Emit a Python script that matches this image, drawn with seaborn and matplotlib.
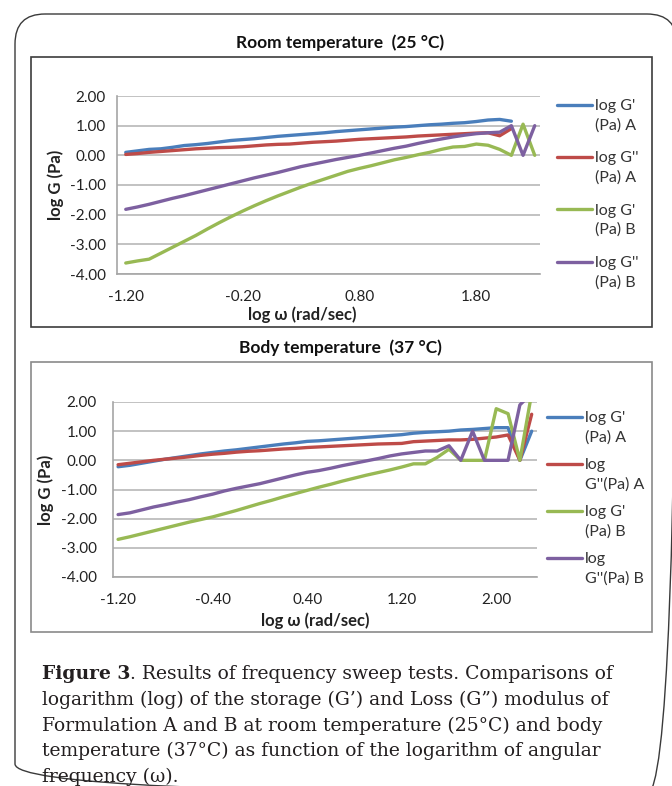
import numpy as np
import pandas as pd
import matplotlib
matplotlib.use("Agg")
import matplotlib.pyplot as plt
import matplotlib.transforms as mtransforms
from matplotlib.patches import Rectangle, FancyBboxPatch
from matplotlib.legend_handler import HandlerLine2D
from matplotlib.text import Annotation
import seaborn as sns

# log w (rad/sec)
log_w = [-1.2, -1.1, -1.0, -0.9, -0.8, -0.7, -0.6, -0.5, -0.4, -0.3, -0.2, -0.1,
         0.0, 0.1, 0.2, 0.3, 0.4, 0.5, 0.6, 0.7, 0.8, 0.9, 1.0, 1.1,
         1.2, 1.3, 1.4, 1.5, 1.6, 1.7, 1.8, 1.9, 2.0, 2.1, 2.2, 2.3]

# Room temperature (25 C)
room_gp_a = [0.10, 0.15, 0.20, 0.22, 0.27, 0.33, 0.36, 0.40, 0.45, 0.50, 0.53, 0.56,
             0.60, 0.64, 0.67, 0.70, 0.73, 0.76, 0.80, 0.83, 0.86, 0.89, 0.92, 0.95,
             0.97, 1.00, 1.03, 1.05, 1.08, 1.10, 1.14, 1.19, 1.21, 1.15]
room_gpp_a = [0.03, 0.06, 0.10, 0.13, 0.16, 0.19, 0.22, 0.24, 0.26, 0.27, 0.29, 0.32,
              0.35, 0.37, 0.38, 0.41, 0.44, 0.46, 0.48, 0.51, 0.54, 0.56, 0.58, 0.60,
              0.62, 0.65, 0.67, 0.69, 0.71, 0.73, 0.75, 0.76, 0.66, 0.90]
room_gp_b = [-3.63, -3.56, -3.50, -3.30, -3.10, -2.90, -2.70, -2.48, -2.27, -2.07, -1.88, -1.70,
             -1.53, -1.37, -1.22, -1.07, -0.93, -0.80, -0.67, -0.54, -0.44, -0.35, -0.25, -0.15,
             -0.07, 0.02, 0.10, 0.20, 0.28, 0.30, 0.38, 0.34, 0.20, 0.00, 1.05, 0.00]
room_gpp_b = [-1.82, -1.74, -1.65, -1.55, -1.45, -1.36, -1.26, -1.16, -1.06, -0.96, -0.86, -0.76,
              -0.67, -0.58, -0.48, -0.38, -0.30, -0.22, -0.14, -0.07, 0.00, 0.08, 0.16, 0.24,
              0.31, 0.40, 0.48, 0.55, 0.62, 0.68, 0.73, 0.76, 0.78, 1.00, 0.00, 1.00]

# Body temperature (37 C)
body_gp_a = [-0.22, -0.17, -0.10, -0.03, 0.04, 0.10, 0.16, 0.22, 0.27, 0.32, 0.36, 0.41,
             0.46, 0.51, 0.56, 0.60, 0.65, 0.67, 0.70, 0.73, 0.76, 0.79, 0.82, 0.85,
             0.88, 0.93, 0.96, 0.98, 1.00, 1.04, 1.06, 1.09, 1.12, 1.12, 0.00, 1.00]
body_gpp_a = [-0.15, -0.10, -0.05, 0.00, 0.04, 0.08, 0.12, 0.17, 0.21, 0.24, 0.28, 0.31,
              0.33, 0.36, 0.39, 0.41, 0.44, 0.46, 0.48, 0.50, 0.52, 0.54, 0.56, 0.57,
              0.58, 0.64, 0.66, 0.68, 0.70, 0.70, 0.72, 0.76, 0.80, 0.87, 0.00, 1.58]
body_gp_b = [-2.71, -2.62, -2.52, -2.42, -2.32, -2.22, -2.12, -2.03, -1.94, -1.83, -1.72, -1.60,
             -1.48, -1.37, -1.25, -1.14, -1.03, -0.92, -0.82, -0.71, -0.61, -0.51, -0.42, -0.33,
             -0.23, -0.12, -0.12, 0.10, 0.38, 0.00, 0.00, 0.00, 1.77, 1.60, 0.00, 2.30]
body_gpp_b = [-1.86, -1.80, -1.70, -1.60, -1.52, -1.43, -1.35, -1.25, -1.16, -1.05, -0.96, -0.88,
              -0.80, -0.70, -0.60, -0.50, -0.41, -0.35, -0.27, -0.18, -0.10, -0.02, 0.06, 0.15,
              0.22, 0.27, 0.32, 0.32, 0.50, 0.00, 1.00, 0.00, 0.00, 0.00, 1.90, 2.30]

room_labels = ["log G'\n(Pa) A", "log G''\n(Pa) A", "log G'\n(Pa) B", "log G''\n(Pa) B"]
body_labels = ["log G'\n(Pa) A", "log\nG''(Pa) A", "log G'\n(Pa) B", "log\nG''(Pa) B"]
colors = ["#4a7ebb", "#be4b48", "#98b954", "#7d60a0"]

room_ticks = [-1.2, -0.2, 0.8, 1.8]
body_ticks = [-1.2, -0.4, 0.4, 1.2, 2.0]
y_ticks = [-4, -3, -2, -1, 0, 1, 2]

caption_head = "Figure 3"
caption_first = ". Results of frequency sweep tests. Comparisons of"
caption_lines = [
    "logarithm (log) of the storage (G\u2019) and Loss (G\u201d) modulus of",
    "Formulation A and B at room temperature (25\u00b0C) and body",
    "temperature (37\u00b0C) as function of the logarithm of angular",
    "frequency (\u03c9).",
]


def long_frame(series, labels):
    rows = []
    for vals, lab in zip(series, labels):
        for x, v in zip(log_w, vals):
            rows.append({"log_w": x, "logG": v, "serie": lab})
    return pd.DataFrame(rows)


class FirstLineHandler(HandlerLine2D):
    # Excel puts the legend line beside the first text line
    def create_artists(self, legend, orig_handle, xdescent, ydescent,
                       width, height, fontsize, trans):
        arts = super().create_artists(legend, orig_handle, xdescent, ydescent,
                                      width, height, fontsize, trans)
        for a in arts:
            a.set_ydata(np.asarray(a.get_ydata()) + 0.68 * fontsize)
        return arts


sns.set_theme(style="white")
plt.rcParams["font.family"] = ["Lato", "DejaVu Sans"]

W, H = 672, 786
fig = plt.figure(figsize=(W / 100, H / 100), dpi=100)
px = mtransforms.Affine2D().scale(1 / W, -1 / H).translate(0, 1) + fig.transFigure

# outer rounded frame and the two chart boxes
fig.add_artist(FancyBboxPatch((15, 14), 662, 780, boxstyle="round,pad=0,rounding_size=30",
                              transform=px, fill=False, ec="#3a3a3a", lw=1.0))
fig.add_artist(Rectangle((31, 57), 621, 270, transform=px, fill=False, ec="#3c3c3c", lw=1.2))
fig.add_artist(Rectangle((31, 362), 621, 270, transform=px, fill=False, ec="#8a8a8a", lw=1.2))


def draw_panel(rect, series, labels, xticks, xlim, title, title_y, leg_xy, leg_spacing,
               ylab_x, xlab_xy, ypad, xpad):
    ax = fig.add_axes(rect)
    df = long_frame(series, labels)
    sns.lineplot(data=df, x="log_w", y="logG", hue="serie", hue_order=labels,
                 palette=colors, lw=2.4, ax=ax, sort=False)
    ax.set_xlim(*xlim)
    ax.set_ylim(-4, 2)
    ax.set_xticks(xticks)
    ax.set_xticklabels([f"{t:.2f}" for t in xticks])
    ax.set_yticks(y_ticks)
    ax.set_yticklabels([f"{t:.2f}" for t in y_ticks])
    ax.tick_params(axis="y", length=0, pad=ypad, labelsize=11, labelcolor="#222222")
    ax.tick_params(axis="x", length=0, pad=xpad, labelsize=11, labelcolor="#222222")
    ax.grid(axis="y", color="#bdbdbd", lw=1.3)
    ax.set_axisbelow(True)
    for s in ["top", "right"]:
        ax.spines[s].set_visible(False)
    for s in ["left", "bottom"]:
        ax.spines[s].set_color("#a6a6a6")
        ax.spines[s].set_linewidth(1.2)
    ax.set_xlabel("log \u03c9 (rad/sec)", fontsize=12, fontweight="bold", color="#222222")
    ax.set_ylabel("log G (Pa)", fontsize=12, fontweight="bold", color="#222222")
    ax.yaxis.set_label_coords(ylab_x, 0.5)
    ax.xaxis.set_label_coords(*xlab_xy)
    fig.text(340 / W, 1 - title_y / H, title, ha="center", va="center",
             fontsize=12.5, fontweight="bold", color="#111111")
    leg = ax.legend(loc="upper left", bbox_to_anchor=(leg_xy[0] / W, 1 - leg_xy[1] / H),
                    bbox_transform=fig.transFigure, frameon=False, borderpad=0,
                    borderaxespad=0, handlelength=2.2, handletextpad=0.2,
                    labelspacing=leg_spacing, prop={"size": 11.5}, labelcolor="#333333",
                    handler_map={matplotlib.lines.Line2D: FirstLineHandler()})
    for t in leg.get_texts():
        t.set_linespacing(1.45)
    return ax


draw_panel([117 / W, 1 - 274 / H, 423 / W, 178 / H],
           [room_gp_a, room_gpp_a, room_gp_b, room_gpp_b], room_labels,
           room_ticks, (-1.275, 2.345), "Room temperature  (25 \u00b0C)", 43,
           (557, 99), 1.18, -0.125, (0.437, -0.18), 8, 11.5)

draw_panel([113 / W, 1 - 577 / H, 424 / W, 175 / H],
           [body_gp_a, body_gpp_a, body_gp_b, body_gpp_b], body_labels,
           body_ticks, (-1.243, 2.345), "Body temperature  (37 \u00b0C)", 348,
           (547, 411), 0.85, -0.139, (0.476, -0.2), 11.5, 11.5)

# caption
serif = ["DejaVu Serif"]
cap_size = 13.5
t0 = fig.text(42 / W, 1 - 679 / H, caption_head, ha="left", va="baseline",
              fontsize=cap_size, fontweight="bold", family=serif, color="#231f20")
fig.add_artist(Annotation(caption_first, xy=(1, 0), xycoords=t0, ha="left", va="bottom",
                          fontsize=cap_size, family=serif, color="#231f20"))
for i, line in enumerate(caption_lines):
    fig.text(42 / W, 1 - (679 + 25.8 * (i + 1)) / H, line, ha="left", va="baseline",
             fontsize=cap_size, family=serif, color="#231f20")

fig.savefig("out.png", dpi=100)
